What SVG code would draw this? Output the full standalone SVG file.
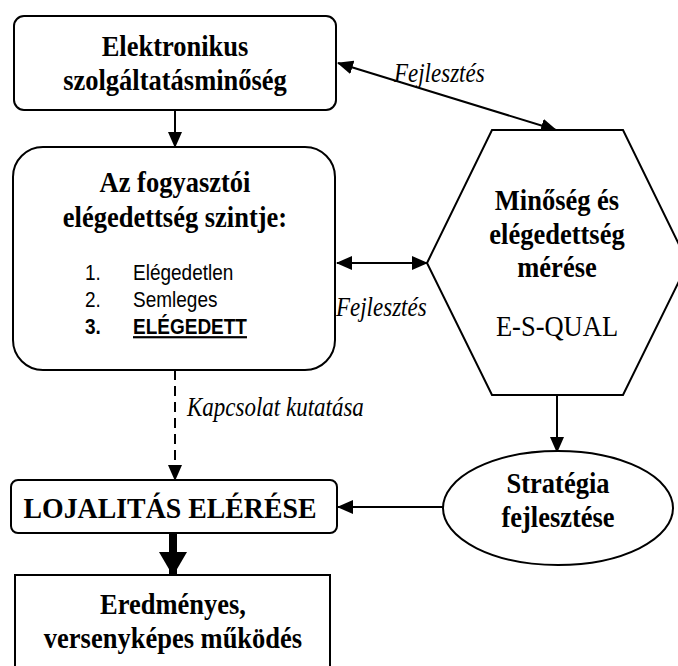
<svg xmlns="http://www.w3.org/2000/svg" width="678" height="666" viewBox="0 0 678 666">
<defs>
<style>
.box{fill:#fff;stroke:#000;stroke-width:2}
.ln{fill:none;stroke:#000;stroke-width:2}
.tb{font-family:"Liberation Serif","Times New Roman",serif;font-weight:bold;font-size:26.5px;text-anchor:middle;fill:#000}
.tr{font-family:"Liberation Serif","Times New Roman",serif;font-size:26.5px;text-anchor:middle;fill:#000}
.ti{font-family:"Liberation Serif","Times New Roman",serif;font-style:italic;font-size:23px;fill:#000}
.ta{font-family:"Liberation Sans",Arial,sans-serif;font-size:19px;fill:#000}
</style>
<marker id="ah" markerUnits="userSpaceOnUse" markerWidth="16" markerHeight="14" refX="15" refY="7" orient="auto-start-reverse">
<path d="M0,0 L16,7 L0,14 Z" fill="#000"/>
</marker>
<marker id="ahb" markerUnits="userSpaceOnUse" markerWidth="24" markerHeight="28" refX="23" refY="14" orient="auto">
<path d="M0,0 L24,14 L0,28 Z" fill="#000"/>
</marker>
</defs>

<g id="connectors">
<line class="ln" x1="175" y1="110" x2="175" y2="147" marker-end="url(#ah)"/>
<line class="ln" x1="338" y1="63" x2="556" y2="130" marker-start="url(#ah)" marker-end="url(#ah)"/>
<line class="ln" x1="337" y1="263" x2="427" y2="263" marker-start="url(#ah)" marker-end="url(#ah)"/>
<line class="ln" x1="175" y1="370" x2="175" y2="480" stroke-dasharray="10,6" marker-end="url(#ah)"/>
<line class="ln" x1="557" y1="395" x2="557" y2="452" marker-end="url(#ah)"/>
<line class="ln" x1="443" y1="507" x2="338" y2="507" marker-end="url(#ah)"/>
<line x1="173" y1="533" x2="173" y2="575" stroke="#000" stroke-width="8" marker-end="url(#ahb)"/>
<text class="ti" transform="translate(394,82) scale(1,1.15)">Fejlesztés</text>
<text class="ti" transform="translate(336,316) scale(1,1.15)">Fejlesztés</text>
<text class="ti" transform="translate(187,416) scale(1,1.15)">Kapcsolat kutatása</text>
</g>

<g id="n_elektronikus">
<rect class="box" x="14" y="16" width="322" height="94" rx="10"/>
<text class="tb" transform="translate(175,56) scale(1,1.15)">Elektronikus</text>
<text class="tb" transform="translate(175,90) scale(1,1.15)">szolgáltatásminőség</text>
</g>

<g id="n_elegedettseg">
<rect class="box" x="13" y="147" width="322" height="223" rx="30"/>
<text class="tb" transform="translate(175,192) scale(1,1.15)">Az fogyasztói</text>
<text class="tb" transform="translate(175,227) scale(1,1.15)">elégedettség szintje:</text>
<text class="ta" transform="translate(85,280) scale(1,1.15)">1.</text>
<text class="ta" transform="translate(133,280) scale(1,1.15)">Elégedetlen</text>
<text class="ta" transform="translate(85,307) scale(1,1.15)">2.</text>
<text class="ta" transform="translate(133,307) scale(1,1.15)">Semleges</text>
<text class="ta" transform="translate(85,334) scale(1,1.15)" font-weight="bold">3.</text>
<text class="ta" transform="translate(133,334) scale(1,1.15)" font-weight="bold" text-decoration="underline">ELÉGEDETT</text>
</g>

<g id="n_meres">
<polygon class="box" points="492,130 623,130 688,263 623,395 492,395 427,263"/>
<text class="tb" transform="translate(557,210) scale(1,1.15)">Minőség és</text>
<text class="tb" transform="translate(557,244) scale(1,1.15)">elégedettség</text>
<text class="tb" transform="translate(557,277) scale(1,1.15)">mérése</text>
<text class="tr" transform="translate(557,336) scale(1,1.15)">E-S-QUAL</text>
</g>

<g id="n_strategia">
<ellipse class="box" cx="558" cy="508" rx="115" ry="57"/>
<text class="tb" transform="translate(558,493) scale(1,1.15)">Stratégia</text>
<text class="tb" transform="translate(558,527) scale(1,1.15)">fejlesztése</text>
</g>

<g id="n_lojalitas">
<rect class="box" x="11" y="480" width="326" height="53" rx="7"/>
<text class="tb" transform="translate(170,518) scale(1.05,1.15)">LOJALITÁS ELÉRÉSE</text>
</g>

<g id="n_eredmenyes">
<rect class="box" x="15" y="575" width="315" height="110"/>
<text class="tb" transform="translate(173,614) scale(1,1.15)">Eredményes,</text>
<text class="tb" transform="translate(173,648) scale(1,1.15)">versenyképes működés</text>
</g>
</svg>
